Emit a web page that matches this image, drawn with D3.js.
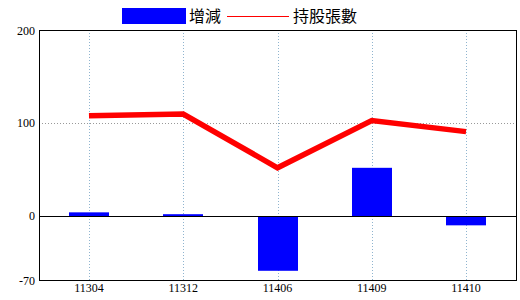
<!DOCTYPE html>
<html>
<head>
<meta charset="utf-8">
<script src="https://cdn.jsdelivr.net/npm/d3@7"></script>
<style>
  body { margin: 0; background: #fff; }
  svg text { font-family: "Liberation Serif", serif; font-size: 12px; }
</style>
</head>
<body>
<div id="chart"></div>
<script>
const periods = ['11304', '11312', '11406', '11409', '11410'];
const changeValues = [4, 2, -59, 52, -10];
const holdingValues = [108, 110, 52, 103, 91];
const yTicks = [-70, 0, 100, 200];

const width = 520, height = 300;
const plotLeft = 39, plotRight = 516, plotTop = 30, plotBottom = 280;

const svg = d3.select('#chart').append('svg')
    .attr('width', width)
    .attr('height', height);

const x = d3.scalePoint().domain(periods).range([plotLeft, plotRight]).padding(0.53);
const y = d3.scaleLinear().domain([-70, 200]).range([plotBottom + 1, plotTop + 0.5]);

// grid
svg.append('g').selectAll('line')
    .data(periods)
    .enter().append('line')
    .attr('x1', d => Math.round(x(d)) + 0.5)
    .attr('x2', d => Math.round(x(d)) + 0.5)
    .attr('y1', plotTop).attr('y2', plotBottom)
    .attr('stroke', '#8fb4cf')
    .attr('stroke-dasharray', '1,2');

svg.append('line')
    .attr('x1', plotLeft).attr('x2', plotRight)
    .attr('y1', Math.round(y(100)) + 0.5).attr('y2', Math.round(y(100)) + 0.5)
    .attr('stroke', '#999')
    .attr('stroke-dasharray', '1,2');

// bars
const barW = 40;
svg.append('g').selectAll('rect')
    .data(changeValues)
    .enter().append('rect')
    .attr('x', (d, i) => Math.round(x(periods[i]) - barW / 2))
    .attr('y', d => y(Math.max(d, 0)))
    .attr('width', barW)
    .attr('height', d => Math.abs(y(d) - y(0)))
    .attr('fill', '#0000ff');

// zero line
svg.append('line')
    .attr('x1', plotLeft).attr('x2', plotRight)
    .attr('y1', Math.round(y(0)) + 0.5).attr('y2', Math.round(y(0)) + 0.5)
    .attr('stroke', '#000');

// holding line
const line = d3.line()
    .x((d, i) => x(periods[i]))
    .y(d => y(d));
svg.append('path')
    .datum(holdingValues)
    .attr('d', line)
    .attr('fill', 'none')
    .attr('stroke', '#ff0000')
    .attr('stroke-width', 5.5);

// frame
svg.append('rect')
    .attr('x', plotLeft + 0.5).attr('y', plotTop + 0.5)
    .attr('width', plotRight - plotLeft).attr('height', plotBottom - plotTop)
    .attr('fill', 'none')
    .attr('stroke', '#000');

// y labels
svg.append('g').selectAll('text')
    .data(yTicks)
    .enter().append('text')
    .attr('x', 35)
    .attr('y', d => y(d))
    .attr('dy', '0.35em')
    .attr('text-anchor', 'end')
    .text(d => d);

// x labels
svg.append('g').selectAll('text')
    .data(periods)
    .enter().append('text')
    .attr('x', d => x(d))
    .attr('y', 292)
    .attr('text-anchor', 'middle')
    .text(d => d);

// legend
const legend = svg.append('g');
legend.append('rect')
    .attr('x', 122).attr('y', 8).attr('width', 64).attr('height', 16)
    .attr('fill', '#0000ff');
legend.append('text')
    .attr('x', 189).attr('y', 22)
    .style('font-size', '16px')
    .style('font-family', '"Noto Sans CJK TC", sans-serif')
    .text('增減');
legend.append('line')
    .attr('x1', 227).attr('x2', 289)
    .attr('y1', 16.5).attr('y2', 16.5)
    .attr('stroke', '#ff0000');
legend.append('text')
    .attr('x', 293).attr('y', 22)
    .style('font-size', '16px')
    .style('font-family', '"Noto Sans CJK TC", sans-serif')
    .text('持股張數');
</script>
</body>
</html>
